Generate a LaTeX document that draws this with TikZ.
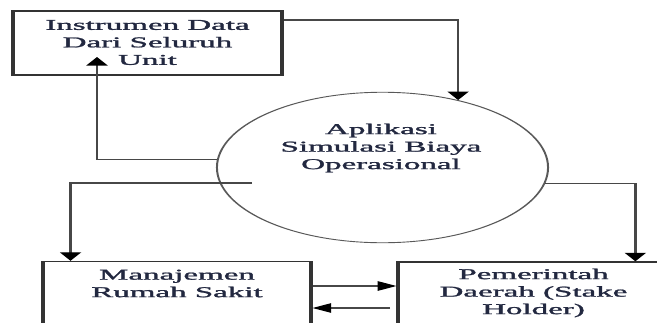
\documentclass[tikz,border=0pt]{standalone}
\usepackage{fontspec}
\newfontfamily\dfont[FakeBold=1.3]{Liberation Serif}
\usetikzlibrary{arrows.meta,calc}
\definecolor{txt}{RGB}{34,40,64}
\tikzset{
  boxst/.style={draw=black!80, line width=1.4pt, rectangle, inner sep=0pt},
  procst/.style={draw=black!65, line width=0.9pt, circle, inner sep=0pt, minimum size=150.5pt},
  lbl/.style={align=center, text=txt, font=\dfont\fontsize{15}{17.5}\selectfont, inner sep=0pt},
  arr/.style={draw=black!72, line width=1.05pt, -{Triangle[width=9.5pt,length=8.5pt,color=black]}},
}
\begin{document}
\begin{tikzpicture}
\useasboundingbox (0,0) rectangle (657pt,-322pt);
\begin{scope}[transform canvas={xscale=2.2}, x=0.454545pt, y=-1pt]
  % boxes
  \node[boxst, minimum width=122.3pt, minimum height=64pt] (top) at (147.5,43) {};
  \node[lbl] (toptext) at (147.5,42.5) {Instrumen Data\\Dari Seluruh\\Unit};
  \node[procst] (app) at (382.5,167.5) {};
  \node[lbl] (apptext) at (381,148) {Aplikasi\\Simulasi Biaya\\Operasional};
  \node[boxst, minimum width=121.8pt, minimum height=80pt] (mrs) at (177,301.5) {};
  \node[lbl] (mrstext) at (177,283.5) {Manajemen\\Rumah Sakit};
  \node[boxst, minimum width=123.2pt, minimum height=80pt] (pd) at (533.5,302) {};
  \node[lbl] (pdtext) at (533.5,293) {Pemerintah\\Daerah (Stake\\Holder)};
  % free ends
  \coordinate (tipA) at (97,57);
  \coordinate (c2) at (252,183);
  \coordinate (c3) at (390,308);
  % connectors
  \draw[arr] ([yshift=23pt]top.east) -| (app.63);
  \draw[arr] (app.174.3) -| (tipA);
  \draw[arr] (c2) -| ([xshift=13.2pt]mrs.north west);
  \draw[arr] (app.348.1) -| ([xshift=108.6pt]pd.north west);
  \draw[arr] ([yshift=15.5pt]mrs.east) -- ([yshift=15.5pt]mrs.east -| pd.west);
  \draw[arr] (c3) -- (c3 -| mrs.east);
\end{scope}
\end{tikzpicture}
\end{document}
